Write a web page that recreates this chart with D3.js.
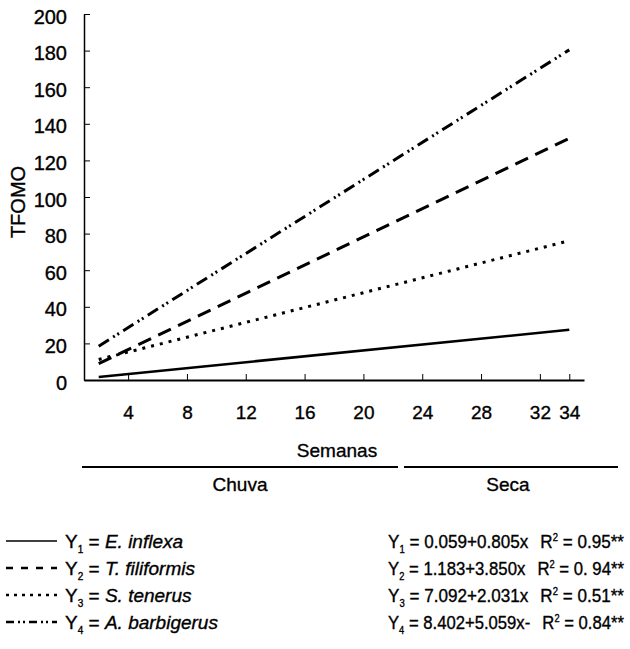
<!DOCTYPE html>
<html>
<head>
<meta charset="utf-8">
<script src="https://cdnjs.cloudflare.com/ajax/libs/d3/7.8.5/d3.min.js"></script>
<style>
  body { margin: 0; background: #fff; }
  svg text { font-family: "Liberation Sans", Arial, sans-serif; fill: #000; stroke: #000; stroke-width: 0.35px; }
</style>
</head>
<body>
<svg id="chart" width="630" height="649"></svg>
<script>
// weeks where each fitted line starts and ends
var weeks = [2, 34];
var xTicks = [4, 8, 12, 16, 20, 24, 28, 32, 34];
var yTicks = [0, 20, 40, 60, 80, 100, 120, 140, 160, 180, 200];

// TFOMO read at weeks 2 and 34
var y1 = [1.7, 27.4];
var y2 = [8.9, 132.1];
var y3 = [11.2, 76.1];
var y4 = [18.5, 180.4];

var species = ["E. inflexa", "T. filiformis", "S. tenerus", "A. barbigerus"];
var equations = ["0.059+0.805x", "1.183+3.850x", "7.092+2.031x", "8.402+5.059x-"];
var r2 = ["0.95**", "0. 94**", "0.51**", "0.84**"];
var seasons = ["Chuva", "Seca"];

var series = [y1, y2, y3, y4];
var dashes = [null, "14,8", "3,6", "12,5,2,3,2,5"];
var legendDashes = [null, "7,8", "3,5", "8,4,2,3,2,4"];

var svg = d3.select("#chart");

var x = d3.scaleLinear().domain([1, 35]).range([84, 584]);
var y = d3.scaleLinear().domain([0, 200]).range([380, 14]);

// y axis, ticks pointing inward
var yAxis = svg.append("g")
  .attr("transform", "translate(84,0)")
  .call(d3.axisRight(y).tickValues(yTicks).tickSize(6).tickSizeOuter(0));
yAxis.select(".domain").attr("stroke-width", 1.5);
yAxis.selectAll("text").remove();
yAxis.selectAll(".tick").append("text")
  .attr("x", -17).attr("y", 2).attr("dy", "0.35em")
  .attr("text-anchor", "end")
  .style("font-size", "20px")
  .text(function(d) { return d; });

// x axis, ticks pointing up
var xAxis = svg.append("g")
  .attr("transform", "translate(0,380)")
  .call(d3.axisTop(x).tickValues(xTicks).tickSize(6).tickSizeOuter(0));
xAxis.select(".domain").attr("stroke-width", 2);
xAxis.selectAll("text").remove();
xAxis.selectAll(".tick").append("text")
  .attr("y", 39)
  .attr("text-anchor", "middle")
  .style("font-size", "19px")
  .text(function(d) { return d; });

svg.append("text")
  .attr("transform", "translate(25,202) rotate(-90)")
  .attr("text-anchor", "middle")
  .style("font-size", "20px")
  .text("TFOMO");

svg.append("text")
  .attr("x", 337).attr("y", 457)
  .attr("text-anchor", "middle")
  .style("font-size", "19px")
  .text("Semanas");

var line = d3.line()
  .x(function(d, i) { return x(weeks[i]); })
  .y(function(d) { return y(d); });

svg.selectAll("path.fit")
  .data(series)
  .enter()
  .append("path")
  .attr("class", "fit")
  .attr("d", line)
  .attr("fill", "none")
  .attr("stroke", "#000")
  .attr("stroke-width", function(d, i) { return i == 0 ? 2.5 : 3; })
  .attr("stroke-dasharray", function(d, i) { return dashes[i]; });

// season bars
var seasonBars = [[82, 398], [404, 618]];
svg.selectAll("line.season")
  .data(seasonBars)
  .enter()
  .append("line")
  .attr("x1", function(d) { return d[0]; })
  .attr("x2", function(d) { return d[1]; })
  .attr("y1", 467).attr("y2", 467)
  .attr("stroke", "#000").attr("stroke-width", 2);
svg.selectAll("text.season")
  .data(seasons)
  .enter()
  .append("text")
  .attr("x", function(d, i) { return [240, 508][i]; })
  .attr("y", 491)
  .attr("text-anchor", "middle")
  .style("font-size", "19px")
  .text(function(d) { return d; });

// legend
var rowY = d3.scalePoint().domain(d3.range(4)).range([541, 622]);
var rows = svg.selectAll("g.leg")
  .data(species)
  .enter()
  .append("g")
  .attr("transform", function(d, i) { return "translate(0," + rowY(i) + ")"; });

rows.append("line")
  .attr("x1", 6).attr("x2", 57)
  .attr("stroke", "#000")
  .attr("stroke-width", function(d, i) { return i == 0 ? 1.6 : 2.5; })
  .attr("stroke-dasharray", function(d, i) { return legendDashes[i]; });

var lab = rows.append("text")
  .attr("x", 65).attr("y", 7)
  .style("font-size", "19px");
lab.append("tspan").text("Y");
lab.append("tspan").attr("dy", 5).style("font-size", "10px").text(function(d, i) { return i + 1; });
lab.append("tspan").attr("dy", -5).text(" = ");
lab.append("tspan").style("font-style", "italic").text(function(d) { return d; });

var eq = rows.append("text").style("font-size", "18px");
eq.append("tspan").text("Y");
eq.append("tspan").attr("dy", 5).style("font-size", "10px").text(function(d, i) { return i + 1; });
eq.append("tspan").attr("dy", -5).text(function(d, i) { return " = " + equations[i]; });

var r = rows.append("text").style("font-size", "18px");
r.append("tspan").text("R");
r.append("tspan").attr("dy", -7).style("font-size", "10px").text("2");
r.append("tspan").attr("dy", 7).text(function(d, i) { return " = " + r2[i]; });

// squeeze equation + R² into the span 388..624 with a small gap, same scale for both
var eqNodes = eq.nodes(), rNodes = r.nodes();
eqNodes.forEach(function(node, i) {
  var w1 = node.getBBox().width, w2 = rNodes[i].getBBox().width;
  var gap = 12, s = (624 - 388 - gap) / (w1 + w2);
  d3.select(node).attr("transform", "translate(388,7) scale(" + s + ",1)");
  d3.select(rNodes[i]).attr("transform", "translate(" + (388 + w1 * s + gap) + ",7) scale(" + s + ",1)");
});
</script>
</body>
</html>
